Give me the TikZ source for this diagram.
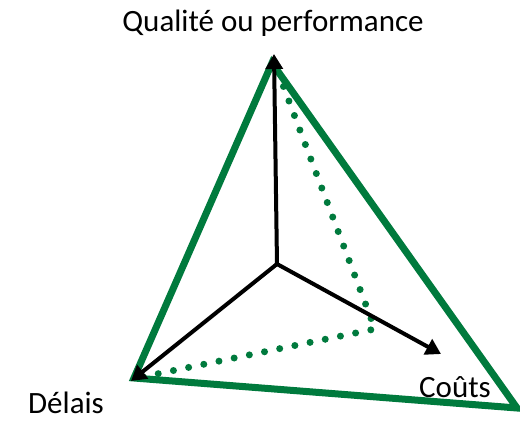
\documentclass[tikz,border=0pt]{standalone}
\usepackage{fontspec}
\setmainfont{Carlito}
\usetikzlibrary{arrows.meta}
\definecolor{pgreen}{RGB}{0,122,61}
\begin{document}
\begin{tikzpicture}[x=1pt,y=-1pt,
  axis/.style={line width=4pt,-{Triangle[length=15pt,width=17pt]}},
  tri/.style={draw=pgreen,line width=7pt,line join=miter},
  dotline/.style={draw=pgreen,line width=7pt,line cap=round,dash pattern=on 0pt off 15.5pt},
  lbl/.style={font=\fontsize{31}{36}\selectfont,inner sep=0pt}]
\useasboundingbox (0,0) rectangle (520,421);
\coordinate (O) at (277,264);
\coordinate (Q) at (274,54);
\coordinate (D) at (131,381);
\coordinate (C) at (441,354);
\coordinate (T1) at (272,63);
\coordinate (T2) at (134,378);
\coordinate (T3) at (517,408);
\coordinate (M) at (375,329);
\draw[tri] (T1) -- (T2) -- (T3) -- cycle;
\draw[dotline] (278,72) -- (M) -- (142,377);
\draw[axis] (O) -- (Q);
\draw[axis] (O) -- (D);
\draw[axis] (O) -- (C);
\node[lbl] (lq) at (273,23) {Qualité ou performance};
\node[lbl] (ld) at (66,403) {Délais};
\node[lbl] (lc) at (455,387) {Coûts};
\end{tikzpicture}
\end{document}
